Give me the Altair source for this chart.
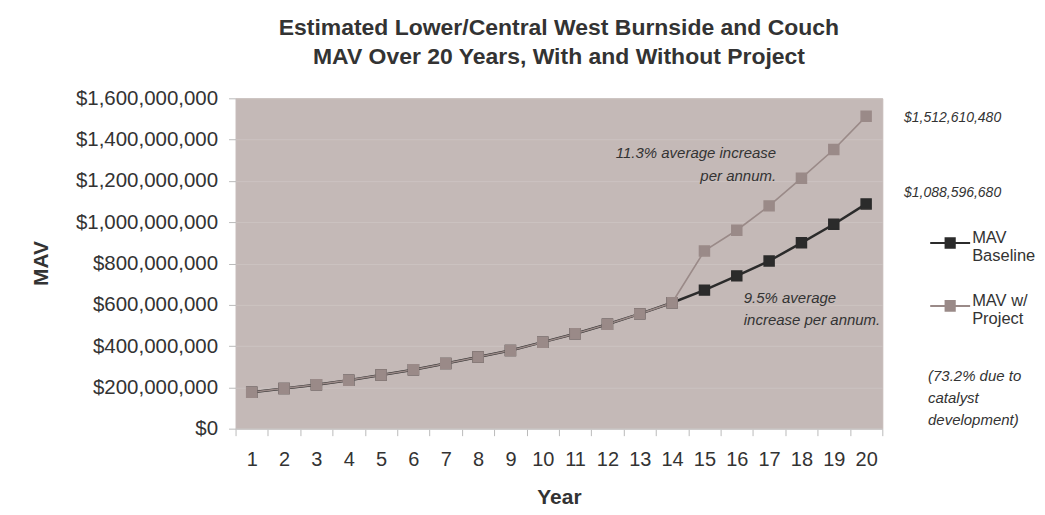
import altair as alt
import pandas as pd

years = list(range(1, 21))
baseline = [176e6, 195e6, 213e6, 235e6, 260e6, 285e6, 316e6, 347e6, 379e6, 419e6,
            460e6, 506e6, 556e6, 610e6, 671e6, 740e6, 812e6, 900e6, 990e6, 1088596680]
project = [176e6, 195e6, 213e6, 235e6, 260e6, 285e6, 316e6, 347e6, 379e6, 419e6,
           460e6, 506e6, 556e6, 610e6, 861e6, 961e6, 1079e6, 1213e6, 1352e6, 1512610480]
series_names = ["MAV|Baseline", "MAV w/|Project"]
end_labels = ["$1,088,596,680", "$1,512,610,480"]
y_ticks = [0, 2e8, 4e8, 6e8, 8e8, 1e9, 1.2e9, 1.4e9, 1.6e9]

note_years = [17, 16, 20]
note_values = [1334e6, 638e6, 256e6]
note_texts = [["11.3% average increase", "per annum."],
              ["9.5% average", "increase per annum."],
              [" (73.2% due to", "catalyst", "development)"]]

BASE_C = "#2b2b2b"
PROJ_C = "#9a8a88"
FONT = "Liberation Sans"

df = pd.DataFrame({
    "Year": years * 2,
    "MAV": baseline + project,
    "Series": [series_names[0]] * 20 + [series_names[1]] * 20,
})
ends = pd.DataFrame({"Year": [20, 20], "MAV": [baseline[-1], project[-1]], "label": end_labels,
                     "k": [0, 1]})
notes = pd.DataFrame({"Year": note_years, "MAV": note_values, "txt": note_texts, "k": [0, 1, 2]})

xenc = alt.X("Year:O", title="Year",
             scale=alt.Scale(type="band", paddingInner=0, paddingOuter=0, domain=years),
             axis=alt.Axis(labelAngle=0, tickBand="extent", labelFontSize=20, labelColor="#333",
                           labelPadding=14, tickSize=7, tickColor="#bbbbbb", domainColor="#cccccc",
                           titleFontSize=21, titleFontWeight="bold", titleColor="#333",
                           titlePadding=17, grid=False))
yenc = alt.Y("MAV:Q", title="MAV",
             scale=alt.Scale(domain=[0, 1.6e9]),
             axis=alt.Axis(format="$,.0f", values=y_ticks, labelOverlap=False,
                           labelFontSize=20.5, labelColor="#333", labelPadding=11,
                           tickSize=7, tickColor="#bbbbbb", domain=False,
                           gridColor="#ccc3c1", gridWidth=1,
                           titleFontSize=21, titleFontWeight="bold", titleColor="#333",
                           titleAngle=-90, titleX=-194, titleY=165, titleAlign="center",
                           titleBaseline="middle"))

# legend symbol: a line through a solid square built from close strokes
sq = " ".join(f"M-0.28,{v:.2f} L0.28,{v:.2f}" for v in [-0.24, -0.16, -0.08, 0.0, 0.08, 0.16, 0.24])
legend = alt.Legend(title=None, orient="none", legendX=695, legendY=124,
                    labelExpr="split(datum.label, '|')",
                    labelFontSize=16.5, labelColor="#333", labelBaseline="alphabetic",
                    rowPadding=20, symbolSize=1600, symbolStrokeWidth=2,
                    symbolType="M-1,0 L1,0 " + sq,
                    labelOffset=1)
cscale = alt.Scale(domain=series_names, range=[BASE_C, PROJ_C])
stroke = alt.Stroke("Series:N", scale=cscale, legend=legend)
fill = alt.Fill("Series:N", scale=cscale, legend=None)


def lay(i, width):
    d = alt.Chart(df).transform_filter(alt.datum.Series == series_names[i])
    ln = d.mark_line(strokeWidth=width).encode(x=xenc, y=yenc, stroke=stroke)
    pt = d.mark_point(shape="square", filled=True, size=100, opacity=1, strokeWidth=1.5).encode(
        x=xenc, y=yenc, fill=fill, stroke=stroke)
    return ln, pt


base_line, base_pts = lay(0, 2.5)
proj_line, proj_pts = lay(1, 1.6)


def end_layer(k, dy):
    return alt.Chart(ends).transform_filter(alt.datum.k == k).mark_text(
        align="left", dx=38, dy=dy, fontSize=14, fontStyle="italic", color="#333", font=FONT
    ).encode(x=xenc, y=yenc, text="label:N")


def note_layer(k, align, baseline_, dx, dy, lh):
    return alt.Chart(notes).transform_filter(alt.datum.k == k).mark_text(
        align=align, baseline=baseline_, dx=dx, dy=dy, fontSize=15, fontStyle="italic",
        color="#333", lineHeight=lh, font=FONT).encode(x=xenc, y=yenc, text="txt")


layers = [base_line, proj_line, base_pts, proj_pts,
          end_layer(0, -11), end_layer(1, 2),
          note_layer(0, "right", "middle", 7, 0, 23),
          note_layer(1, "left", "top", 7, -6, 22),
          note_layer(2, "left", "top", 62, -7, 22)]

chart = alt.layer(*layers).properties(
    width=648, height=331,
    title=alt.Title(["Estimated Lower/Central West Burnside and Couch",
                     "MAV Over 20 Years, With and Without Project"],
                    fontSize=23, fontWeight="bold", color="#333", lineHeight=29, offset=19,
                    anchor="middle", font=FONT),
    autosize=alt.AutoSizeParams(type="none"),
    padding={"left": 228, "top": 90, "right": 155, "bottom": 78},
    view=alt.ViewBackground(fill="#c4b9b7", stroke="#c4b9b7"),
).configure_view(fill="#c4b9b7", stroke="#c4b9b7").configure(font=FONT)

chart.save("out.html", embed_options={"renderer": "svg", "actions": False})
